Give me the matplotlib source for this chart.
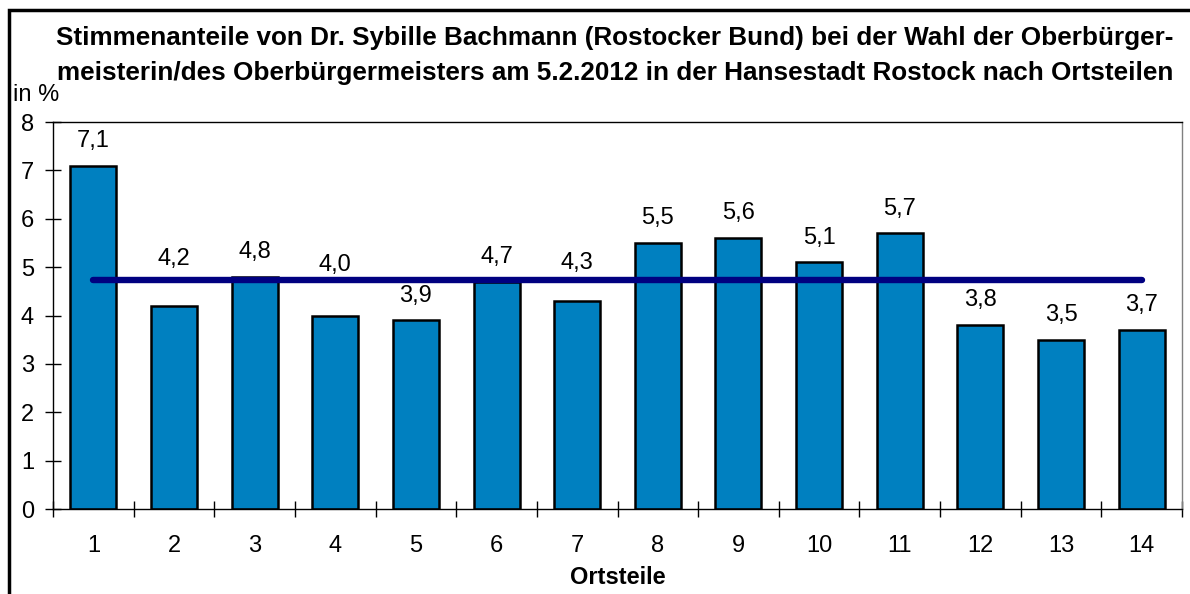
import matplotlib
matplotlib.use('Agg')
import matplotlib.pyplot as plt
from matplotlib.patches import Rectangle
from matplotlib.ticker import FixedLocator

plt.rcParams['font.family'] = ['Liberation Sans', 'DejaVu Sans']

# Data
ortsteile = ['1', '2', '3', '4', '5', '6', '7', '8', '9', '10', '11', '12', '13', '14']
anteile = [7.1, 4.2, 4.8, 4.0, 3.9, 4.7, 4.3, 5.5, 5.6, 5.1, 5.7, 3.8, 3.5, 3.7]
gesamt = [4.73] * len(ortsteile)

title_lines = ['Stimmenanteile von Dr. Sybille Bachmann (Rostocker Bund) bei der Wahl der Oberbürger-',
               'meisterin/des Oberbürgermeisters am 5.2.2012 in der Hansestadt Rostock nach Ortsteilen']

# labels that were pushed above the average line in the original (baseline, data units)
label_moved = {1: 5.04, 3: 4.92, 5: 5.09, 6: 4.96}

W, H = 1190, 594
fig = plt.figure(figsize=(W / 100, H / 100), dpi=100)
ax = fig.add_axes([53 / W, (H - 509) / H, 1129 / W, 387 / H])

x = list(range(len(ortsteile)))
ax.bar(x, anteile, width=0.57, color='#0080C0', edgecolor='black',
       linewidth=1.8, zorder=2)
ax.plot(x, gesamt, color='#000080', linewidth=4.6, solid_capstyle='round', zorder=3)

# value labels with German decimal comma
for xi, v in zip(x, anteile):
    txt = f'{v:.1f}'.replace('.', ',')
    if xi in label_moved:
        ax.text(xi, label_moved[xi], txt, ha='center', va='baseline', fontsize=17)
    else:
        ax.annotate(txt, (xi, v), xytext=(0, 13.5), textcoords='offset points',
                    ha='center', va='baseline', fontsize=17)

ax.set_xlim(-0.5, len(ortsteile) - 0.5)
ax.set_ylim(0, 8)
ax.set_yticks(range(0, 9))
ax.set_xticks(x)
ax.set_xticklabels(ortsteile)
ax.xaxis.set_minor_locator(FixedLocator([i - 0.5 for i in range(len(ortsteile) + 1)]))
ax.tick_params(axis='x', which='major', length=0, pad=18.6, labelsize=17)
ax.tick_params(axis='x', which='minor', direction='inout', length=11.5, width=1)
ax.tick_params(axis='y', direction='inout', length=11.5, width=1, labelsize=17, pad=8)

ax.spines['left'].set_color('black')
ax.spines['bottom'].set_color('black')
ax.spines['top'].set_color('black')
ax.spines['right'].set_color('#808080')
for s in ax.spines.values():
    s.set_linewidth(1)

ax.set_xlabel('Ortsteile', fontsize=17, fontweight='bold', labelpad=6.3)

fig.text(615 / W, 1 - 45 / H, title_lines[0], ha='center', va='baseline',
         fontsize=18.8, fontweight='bold')
fig.text(615 / W, 1 - 80 / H, title_lines[1], ha='center', va='baseline',
         fontsize=18.8, fontweight='bold')
fig.text(13 / W, 1 - 101 / H, 'in %', ha='left', va='baseline', fontsize=17)

# outer frame (cut off at right and bottom)
fig.patches.append(Rectangle((9 / W, -0.1), 1.2, 1.1 - 10 / H,
                             transform=fig.transFigure, fill=False,
                             edgecolor='black', linewidth=2.5))

fig.savefig('out.png', dpi=100)
